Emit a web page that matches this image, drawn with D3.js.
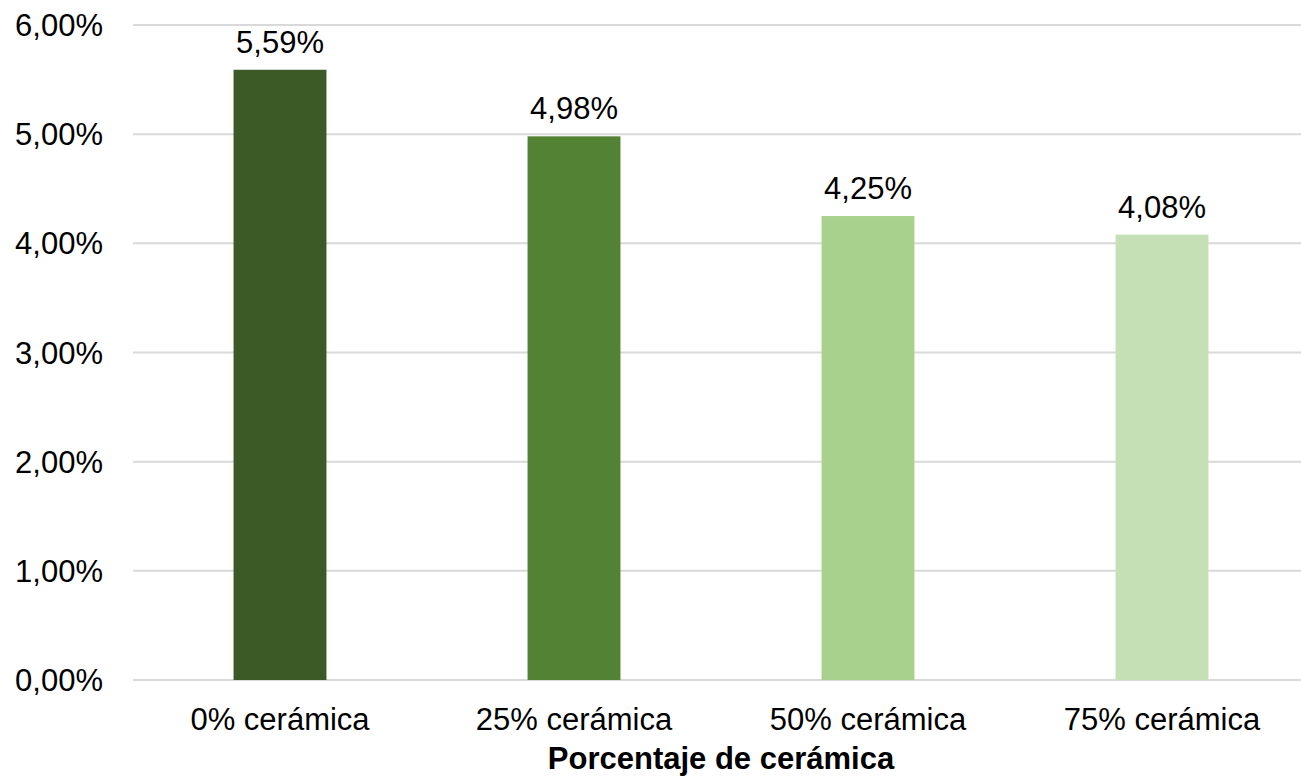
<!DOCTYPE html>
<html>
<head>
<meta charset="utf-8">
<script src="https://cdn.jsdelivr.net/npm/d3@7"></script>
<style>
  html, body { margin: 0; padding: 0; background: #fff; }
  svg { display: block; font-family: "Liberation Sans", Arial, Helvetica, sans-serif; }
</style>
</head>
<body>
<svg id="chart" width="1301" height="781"></svg>
<script>
// Absorción por porcentaje de cerámica
const categories = ["0% cerámica", "25% cerámica", "50% cerámica", "75% cerámica"];
const values = [5.59, 4.98, 4.25, 4.08];
const barColors = ["#3B5A25", "#548235", "#A9D18E", "#C5E0B4"];
const yTicks = [0, 1, 2, 3, 4, 5, 6];
const xTitle = "Porcentaje de cerámica";

const svg = d3.select("#chart");
const plot = { left: 133, right: 1309, top: 25, bottom: 680 };
const fontSize = 31;

const fmt = v => v.toFixed(2).replace(".", ",") + "%";

const x = d3.scaleBand()
  .domain(categories)
  .range([plot.left, plot.right])
  .paddingInner(0.684)
  .paddingOuter(0.342);

const y = d3.scaleLinear().domain([0, 6]).range([plot.bottom, plot.top]);

// Horizontal gridlines
svg.append("g")
  .selectAll("line")
  .data(yTicks)
  .join("line")
  .attr("x1", plot.left)
  .attr("x2", 1301)
  .attr("y1", d => y(d))
  .attr("y2", d => y(d))
  .attr("stroke", "#D9D9D9")
  .attr("stroke-width", 2);

// Y tick labels
svg.append("g")
  .selectAll("text")
  .data(yTicks)
  .join("text")
  .attr("x", 103)
  .attr("y", d => y(d))
  .attr("dy", "0.36em")
  .attr("text-anchor", "end")
  .attr("font-size", fontSize)
  .attr("fill", "#000")
  .text(d => fmt(d));

// Bars
svg.append("g")
  .selectAll("rect")
  .data(values)
  .join("rect")
  .attr("x", (d, i) => x(categories[i]))
  .attr("width", x.bandwidth())
  .attr("y", d => y(d))
  .attr("height", d => y(0) - y(d))
  .attr("fill", (d, i) => barColors[i]);

// Value labels
svg.append("g")
  .selectAll("text")
  .data(values)
  .join("text")
  .attr("x", (d, i) => x(categories[i]) + x.bandwidth() / 2)
  .attr("y", d => y(d) - 17)
  .attr("text-anchor", "middle")
  .attr("font-size", fontSize)
  .attr("fill", "#000")
  .text(d => fmt(d));

// Category labels
svg.append("g")
  .selectAll("text")
  .data(categories)
  .join("text")
  .attr("x", d => x(d) + x.bandwidth() / 2)
  .attr("y", 730)
  .attr("text-anchor", "middle")
  .attr("font-size", fontSize)
  .attr("fill", "#000")
  .text(d => d);

// Axis title
svg.append("text")
  .attr("x", (plot.left + plot.right) / 2)
  .attr("y", 769)
  .attr("text-anchor", "middle")
  .attr("font-size", fontSize)
  .attr("font-weight", "bold")
  .attr("fill", "#000")
  .text(xTitle);
</script>
</body>
</html>
